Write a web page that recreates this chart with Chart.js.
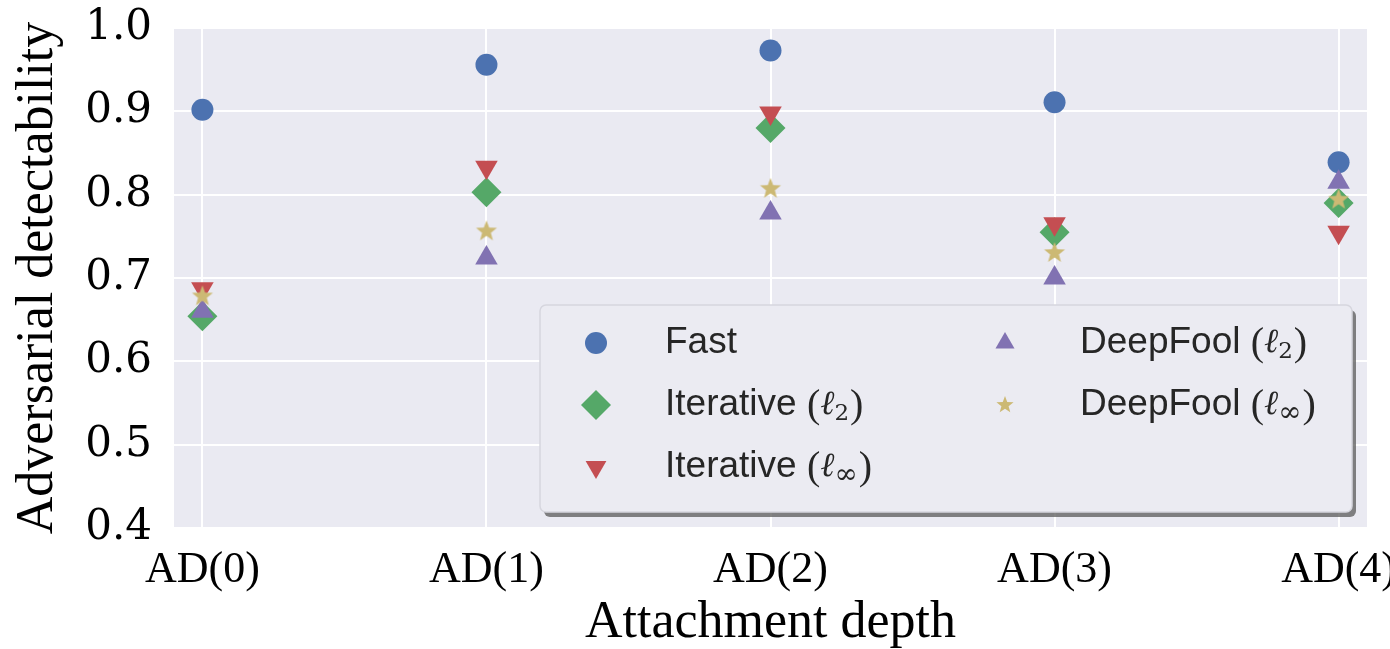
<!DOCTYPE html>
<html>
<head>
<meta charset="utf-8">
<script src="https://cdn.jsdelivr.net/npm/chart.js@4.4.0/dist/chart.umd.min.js"></script>
<style>
  html, body { margin: 0; padding: 0; background: #fff; }
  canvas { display: block; }
</style>
</head>
<body>
<canvas id="chart" width="1390" height="649"></canvas>
<script>
// data
const categories = ['AD(0)', 'AD(1)', 'AD(2)', 'AD(3)', 'AD(4)'];
const yTicks = [0.4, 0.5, 0.6, 0.7, 0.8, 0.9, 1.0];

const seriesNames = ['Fast', 'Iterative (ℓ_2)', 'Iterative (ℓ_∞)', 'DeepFool (ℓ_2)', 'DeepFool (ℓ_∞)'];
const fast     = [0.902, 0.956, 0.973, 0.911, 0.839];
const iterL2   = [0.654, 0.803, 0.880, 0.755, 0.790];
const iterLinf = [0.687, 0.833, 0.898, 0.765, 0.755];
const deepL2   = [0.660, 0.724, 0.778, 0.700, 0.815];
const deepLinf = [0.678, 0.756, 0.807, 0.730, 0.794];

const colors = ['#4C72B0', '#55A868', '#C44E52', '#8172B2', '#CCB974'];

// filled five point star, chart.js has no such point style
function makeStar(r, color) {
  const c = document.createElement('canvas');
  const s = Math.ceil(r * 2 + 2);
  c.width = s; c.height = s;
  const g = c.getContext('2d');
  g.fillStyle = color;
  g.beginPath();
  for (let i = 0; i < 10; i++) {
    const rr = i % 2 === 0 ? r : r * 0.42;
    const a = -Math.PI / 2 + i * Math.PI / 5;
    const px = s / 2 + rr * Math.cos(a);
    const py = s / 2 + rr * Math.sin(a);
    if (i === 0) g.moveTo(px, py); else g.lineTo(px, py);
  }
  g.closePath();
  g.fill();
  return c;
}

const markers = [
  { pointStyle: 'circle', rotation: 0, radius: 11, legendRadius: 11 },
  { pointStyle: 'rectRot', rotation: 0, radius: 15, legendRadius: 15 },
  { pointStyle: 'triangle', rotation: 180, radius: 13, legendRadius: 12 },
  { pointStyle: 'triangle', rotation: 0, radius: 13, legendRadius: 11 },
  { pointStyle: makeStar(11, colors[4]), rotation: 0, radius: 11, legendRadius: 9,
    legendStyle: makeStar(9, colors[4]) }
];

const allSeries = [fast, iterL2, iterLinf, deepL2, deepLinf];

const datasets = allSeries.map((vals, k) => ({
  label: seriesNames[k],
  data: vals.map((v, i) => ({ x: i, y: v })),
  backgroundColor: colors[k],
  borderColor: colors[k],
  borderWidth: 0,
  pointStyle: markers[k].pointStyle,
  rotation: markers[k].rotation,
  pointRadius: markers[k].radius,
  pointHoverRadius: markers[k].radius,
  order: allSeries.length - k   // later series on top, like matplotlib
}));

const plotBackground = {
  id: 'plotBackground',
  beforeDraw(chart) {
    const { ctx, chartArea: a } = chart;
    ctx.save();
    ctx.fillStyle = '#EAEAF2';
    ctx.fillRect(a.left, a.top, a.right - a.left, a.bottom - a.top);
    ctx.restore();
  }
};

// label like "Iterative (ℓ_2)" -> plain text + serif math part
function drawLabel(ctx, label, x, y) {
  const m = label.match(/^(.*?)\(ℓ_(.)\)$/);
  ctx.textBaseline = 'middle';
  ctx.textAlign = 'left';
  ctx.fillStyle = '#262626';
  const sans = '37px "Liberation Sans", Arial, sans-serif';
  if (!m) {
    ctx.font = sans;
    ctx.fillText(label, x, y);
    return;
  }
  let cx = x;
  ctx.font = sans;
  ctx.fillText(m[1], cx, y);
  cx += ctx.measureText(m[1]).width;
  ctx.font = '40px "Liberation Serif", serif';
  ctx.fillText('(', cx, y + 1);
  cx += ctx.measureText('(').width;
  ctx.font = 'italic 34px "DejaVu Serif", serif';
  ctx.fillText('ℓ', cx, y);
  cx += ctx.measureText('ℓ').width;
  ctx.font = (m[2] === '∞' ? '28px' : '23px') + ' "DejaVu Serif", serif';
  ctx.fillText(m[2], cx, y + 9);
  cx += ctx.measureText(m[2]).width + 1;
  ctx.font = '40px "Liberation Serif", serif';
  ctx.fillText(')', cx, y + 1);
}

function roundRect(ctx, x, y, w, h, r) {
  ctx.beginPath();
  ctx.moveTo(x + r, y);
  ctx.arcTo(x + w, y, x + w, y + h, r);
  ctx.arcTo(x + w, y + h, x, y + h, r);
  ctx.arcTo(x, y + h, x, y, r);
  ctx.arcTo(x, y, x + w, y, r);
  ctx.closePath();
}

const insideLegend = {
  id: 'insideLegend',
  afterDraw(chart) {
    const { ctx, chartArea: a } = chart;
    const w = 812, h = 207;
    const x0 = a.right - 15 - w, y0 = a.bottom - 16 - h;
    ctx.save();
    ctx.fillStyle = 'rgba(90,90,90,0.75)';
    roundRect(ctx, x0 + 4, y0 + 5, w, h, 6);
    ctx.fill();
    ctx.fillStyle = '#EBEBF2';
    ctx.strokeStyle = '#D6D6DE';
    ctx.lineWidth = 1.5;
    roundRect(ctx, x0, y0, w, h, 6);
    ctx.fill();
    ctx.stroke();

    const cols = [{ mx: x0 + 56, tx: x0 + 125 }, { mx: x0 + 465, tx: x0 + 540 }];
    const rows = [y0 + 38, y0 + 100, y0 + 162];
    seriesNames.forEach((name, k) => {
      const col = cols[k < 3 ? 0 : 1];
      const y = rows[k < 3 ? k : k - 3];
      const mk = markers[k];
      ctx.fillStyle = colors[k];
      ctx.strokeStyle = colors[k];
      Chart.helpers.drawPoint(ctx, {
        pointStyle: mk.legendStyle || mk.pointStyle,
        rotation: mk.rotation,
        radius: mk.legendRadius,
        borderWidth: 0
      }, col.mx, y);
      drawLabel(ctx, name, col.tx, y);
    });
    ctx.restore();
  }
};

const ctx = document.getElementById('chart').getContext('2d');

new Chart(ctx, {
  type: 'scatter',
  data: { datasets },
  plugins: [plotBackground, insideLegend],
  options: {
    responsive: false,
    animation: false,
    layout: { padding: { top: 28, right: 23, left: 0, bottom: 0 } },
    plugins: {
      legend: { display: false },
      tooltip: { enabled: false }
    },
    scales: {
      x: {
        type: 'linear',
        min: -0.1,
        max: 4.1,
        afterBuildTicks: (scale) => { scale.ticks = categories.map((c, i) => ({ value: i })); },
        afterFit: (scale) => { scale.height = 121; scale.paddingLeft = 0; scale.paddingRight = 0; },
        grid: { color: '#FFFFFF', lineWidth: 2, drawTicks: false },
        border: { display: false },
        ticks: {
          callback: (v) => categories[v],
          maxRotation: 0,
          autoSkip: false,
          padding: 16,
          color: '#000',
          font: { family: '"Liberation Serif", "Times New Roman", serif', size: 44 }
        },
        title: {
          display: true,
          text: 'Attachment depth',
          color: '#000',
          font: { family: '"Liberation Serif", "Times New Roman", serif', size: 52, lineHeight: 1 },
          padding: { top: 0, bottom: 0 }
        }
      },
      y: {
        min: 0.4,
        max: 1.0,
        afterBuildTicks: (scale) => { scale.ticks = yTicks.map(v => ({ value: v })); },
        afterFit: (scale) => { scale.width = 174; scale.paddingTop = 0; scale.paddingBottom = 0; },
        grid: { color: '#FFFFFF', lineWidth: 2, drawTicks: false },
        border: { display: false },
        ticks: {
          callback: (v) => v.toFixed(1),
          padding: 22,
          color: '#000',
          font: { family: '"DejaVu Serif", serif', size: 42 }
        },
        title: {
          display: true,
          text: 'Adversarial detectability',
          color: '#000',
          font: { family: '"Liberation Serif", "Times New Roman", serif', size: 52, lineHeight: 1 },
          padding: { top: 12, bottom: 0 }
        }
      }
    }
  }
});
</script>
</body>
</html>
